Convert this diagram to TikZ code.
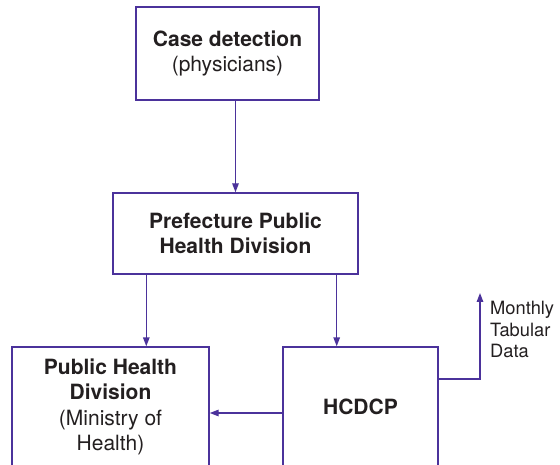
\documentclass[tikz,border=0pt]{standalone}
\usepackage{fontspec}
\setmainfont{TeX Gyre Heros}
\usetikzlibrary{arrows.meta}
\definecolor{linec}{RGB}{75,50,155}
\definecolor{txtc}{RGB}{35,31,32}
\begin{document}
\begin{tikzpicture}[x=1pt,y=-1pt,
  box/.style={draw=linec,line width=1.4pt,rectangle,inner sep=0pt,align=center,text=txtc,
    font=\fontsize{21}{25}\selectfont},
  arr/.style={draw=linec,line width=1.4pt,-{Triangle[length=9pt,width=6.5pt]}}]
\useasboundingbox (0,0) rectangle (560,465);
\clip (0,0) rectangle (560,465);
\fill[white] (0,0) rectangle (560,465);
\node[box,minimum width=183pt,minimum height=93pt] (case) at (227.5,53.5)
  {\textbf{Case detection}\\(physicians)};
\node[box,minimum width=245pt,minimum height=81pt] (pref) at (235.5,233.5)
  {\textbf{Prefecture Public}\\\textbf{Health Division}};
\node[box,minimum width=197pt,minimum height=120pt,font=\fontsize{21}{25.5}\selectfont] (phd) at (110.5,407)
  {\textbf{Public Health}\\\textbf{Division}\\(Ministry of\\Health)};
\node[box,minimum width=155pt,minimum height=120pt] (hc) at (360.5,407)
  {\textbf{HCDCP}};
\coordinate (out) at (480,293);
\node[anchor=north west,inner sep=0pt,align=left,text=txtc,
  font=\fontsize{18.3}{21.5}\selectfont] (lbl) at (490,301) {Monthly\\Tabular\\Data};
\draw[arr] (case.south -| pref.north) -- (pref.north);
\draw[arr] ([xshift=34pt]pref.south west) -- ([xshift=34pt]pref.south west |- phd.north);
\draw[arr] ([xshift=-22pt]pref.south east) -- ([xshift=-22pt]pref.south east |- hc.north);
\draw[arr] ([yshift=-6pt]hc.west) -- ([yshift=-6pt]hc.west -| phd.east);
\draw[arr] ([yshift=28pt]hc.east) -| (out);
\end{tikzpicture}
\end{document}
